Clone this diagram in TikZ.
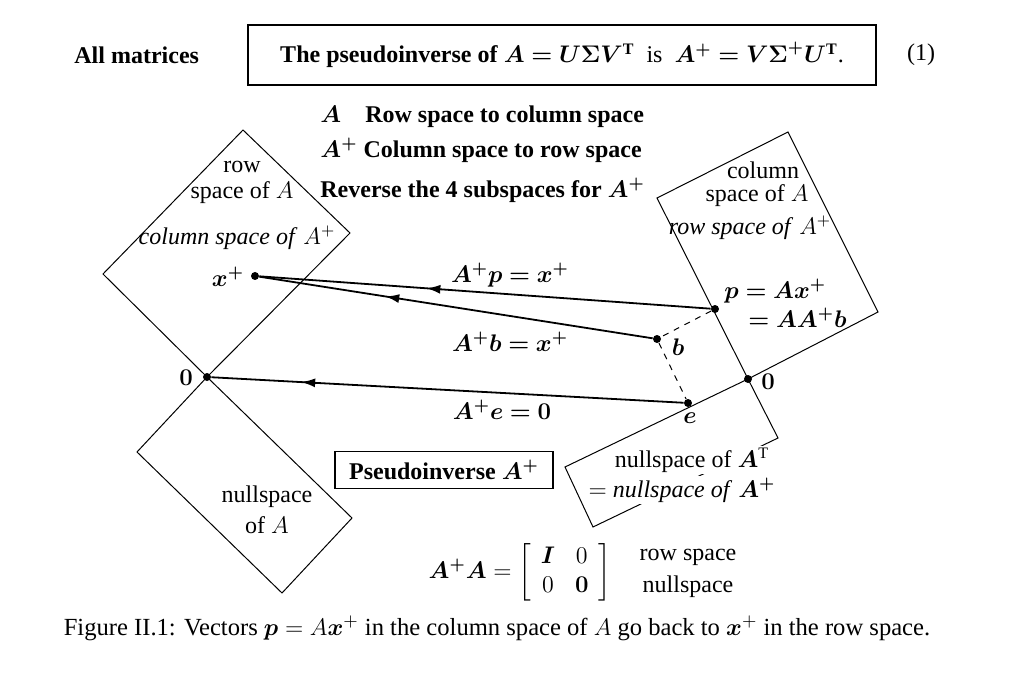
\documentclass[tikz,border=0pt,12pt]{standalone}
\usepackage{amsmath,bm}
\usepackage{fontspec}
\setmainfont{Liberation Serif}
\usetikzlibrary{arrows.meta,decorations.markings}
\tikzstyle{space}=[draw, line width=0.5pt]
\tikzstyle{dot}=[circle, fill, inner sep=0pt, minimum size=4pt]
\tikzstyle{vec}=[line width=0.9pt]
\tikzstyle{line}=[-, line width=0.5pt, dashed]
\tikzstyle{lbl}=[inner sep=1pt]
\tikzstyle{sbox}=[rectangle, draw, line width=0.6pt, inner sep=3pt]
\tikzset{midarrow/.style={postaction={decorate}, decoration={markings,
    mark=at position #1 with {\arrow{Latex[length=7pt,width=4.5pt]}}}}}

\begin{document}
\begin{tikzpicture}[x=0.5pt, y=-0.5pt]
    \useasboundingbox (0,0) rectangle (1031,673);

% header
    \node (all) [lbl, anchor=west] at (72,55) {\textbf{All matrices}};
    \node (pinv) [sbox, minimum width=314pt, minimum height=30pt] at (562,55)
        {\textbf{The pseudoinverse of} $\bm{A=U\Sigma V^{\mathrm{T}}}$ \ is \ $\bm{A^{+}=V\Sigma^{+}U^{\mathrm{T}}}$.};
    \node (eqno) [lbl] at (921,55) {(1)};

    \node (rule1) [lbl, anchor=west] at (318,117) {$\bm{A}$\quad\textbf{Row space to column space}};
    \node (rule2) [lbl, anchor=west] at (318,150) {$\bm{A^{+}}$ \textbf{Column space to row space}};
    \node (rule3) [lbl, anchor=west] at (318,190) {\textbf{Reverse the 4 subspaces for} $\bm{A^{+}}$};

% the four subspaces
    \draw[space] (207,377) -- (350,233) -- (243,130) -- (103,274) -- cycle;
    \draw[space] (207,377) -- (352,518) -- (282,593) -- (137,452) -- cycle;
    \draw[space] (748,379) -- (657,198) -- (788,132) -- (878,312) -- cycle;
    \draw[space] (748,379) -- (778,438) -- (593,527) -- (565,467) -- cycle;

    \node (row1) [lbl, inner sep=0pt] at (242,167) {row};
    \node (row2) [lbl, inner sep=0pt] at (242,193) {space of $A$};
    \node (row3) [lbl] at (237,238) {\textit{column space of} $A^+$};
    \node (col1) [lbl, inner sep=0pt] at (763,170) {column};
    \node (col2) [lbl, inner sep=0pt] at (757,196) {space of $A$};
    \node (col3) [lbl] at (750,228) {\textit{row space of} $A^+$};
    \node (nul1) [lbl, inner sep=0pt] at (267,497) {nullspace};
    \node (nul2) [lbl, inner sep=0pt] at (267,525) {of $A$};
    \node (lnul1) [lbl, fill=white] at (692,460) {nullspace of $\bm{A}^{\mathrm{T}}$};
    \node (lnul2) [lbl, fill=white] at (682,490) {$=$ \textit{nullspace of} $\bm{A^{+}}$};

% vectors
    \node (xp) [dot] at (255,276) {};
    \node (zl) [dot] at (207,377) {};
    \node (p) [dot] at (715,309) {};
    \node (b) [dot] at (657,339) {};
    \node (e) [dot] at (688,403) {};
    \node (zr) [dot] at (748,379) {};

    \node (xpl) [lbl] at (228,277) {$\bm{x^{+}}$};
    \node (zll) [lbl] at (186,378) {$\bm{0}$};
    \node (zrl) [lbl] at (768,382) {$\bm{0}$};
    \node (bl) [lbl] at (678,347) {$\bm{b}$};
    \node (el) [lbl] at (690,418) {$\bm{e}$};
    \node (pl1) [lbl, anchor=west] at (722,291) {$\bm{p=Ax^{+}}$};
    \node (pl2) [lbl, anchor=west] at (746,318) {$\bm{=AA^{+}b}$};

    \draw[vec, midarrow=0.63] (p) -- (xp);
    \draw[vec, midarrow=0.68] (b) -- (xp);
    \draw[vec, midarrow=0.81] (e) -- (zl);
    \draw[line] (p) -- (b) -- (e);

    \node (ap) [lbl] at (510,275) {$\bm{A^{+}p=x^{+}}$};
    \node (ab) [lbl] at (510,342) {$\bm{A^{+}b=x^{+}}$};
    \node (ae) [lbl] at (502,410) {$\bm{A^{+}e=0}$};

% bottom
    \node (pseudo) [sbox, minimum width=109pt, minimum height=18.5pt] at (444,470)
        {\textbf{Pseudoinverse} $\bm{A^{+}}$};
    \node (mat) [lbl] at (520,572) {$\bm{A^{+}A}=\left[\begin{array}{cc}\bm{I} & 0\\ 0 & \bm{0}\end{array}\right]$};
    \node (mrow) [lbl] at (688,557) {row space};
    \node (mnul) [lbl] at (688,587) {nullspace};

    \node (caption) [lbl, font=\fontsize{12.3}{14}\selectfont] at (497,628) {Figure II.1: Vectors $\bm{p}=A\bm{x}^+$ in the column space of $A$ go back to $\bm{x}^+$ in the row space.};
\end{tikzpicture}
\end{document}
